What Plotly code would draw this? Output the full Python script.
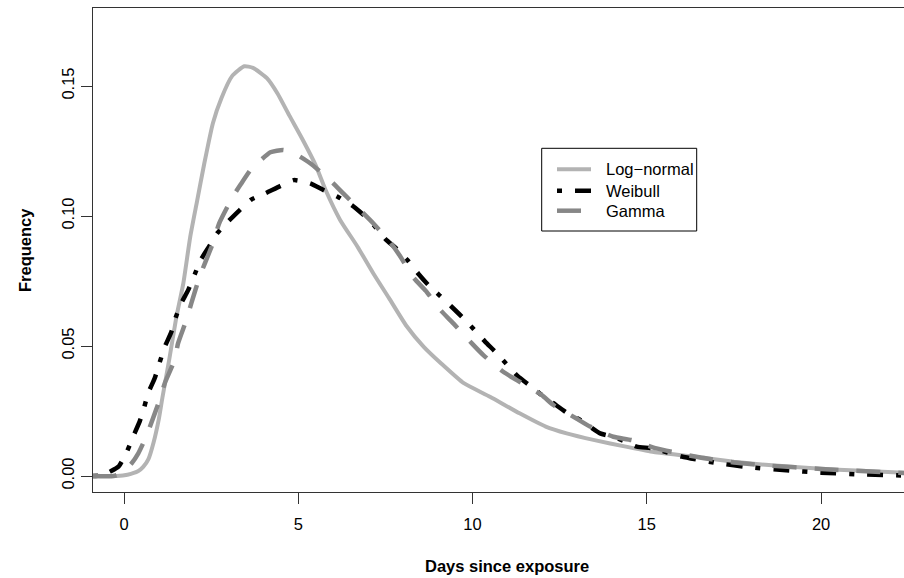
import plotly.graph_objects as go

# ---- data ----
lognormal_x = [-0.9, -0.2, 0.1, 0.4, 0.55, 0.7, 0.85, 1.0, 1.1, 1.3, 1.5, 1.7, 1.9, 2.1, 2.3, 2.55, 2.8, 3.1,
               3.45, 3.7, 4.1, 4.4, 4.75, 5.1, 5.5, 5.8, 6.2, 6.7, 7.15, 7.6, 8.1, 8.6, 9.1, 9.75, 10.5, 11.35,
               12.1, 12.7, 13.5, 14.4, 15.2, 16.5, 17.5, 18.5, 20, 21, 22.4]
lognormal_y = [0, 0, 0.0005, 0.0018, 0.0035, 0.0065, 0.013, 0.022, 0.030, 0.045, 0.061, 0.074, 0.092, 0.106,
               0.120, 0.1357, 0.1455, 0.1538, 0.1576, 0.1570, 0.153, 0.1472, 0.1385, 0.130, 0.1195, 0.1095,
               0.0985, 0.0882, 0.078, 0.0685, 0.0578, 0.0497, 0.0433, 0.0357, 0.0305, 0.0241, 0.019, 0.0164,
               0.0138, 0.0113, 0.0092, 0.0072, 0.0055, 0.0042, 0.0028, 0.0021, 0.0012]

weibull_x = [-0.9, -0.6, -0.4, -0.16, 0.08, 0.26, 0.45, 0.55, 0.69, 0.88, 1.02, 1.17, 1.36, 1.48, 1.64, 1.84,
             2.03, 2.2, 2.41, 2.67, 2.98, 3.32, 3.65, 4.05, 4.48, 4.87, 5.34, 5.72, 6.13, 6.53, 6.87, 7.2, 7.5,
             7.83, 8.13, 8.45, 8.73, 9.05, 9.4, 9.69, 10.02, 10.36, 10.65, 10.96, 11.29, 11.62, 11.98, 12.32,
             12.7, 13.1, 13.66, 14.03, 14.33, 14.71, 15.19, 16, 17, 18, 19, 20, 21, 22.4]
weibull_y = [0, 0.0003, 0.0017, 0.0036, 0.0093, 0.0151, 0.021, 0.025, 0.0318, 0.0376, 0.0436, 0.0497, 0.0555,
             0.0609, 0.0664, 0.0715, 0.0776, 0.0831, 0.0876, 0.0933, 0.0978, 0.1023, 0.1063, 0.1087, 0.1115,
             0.1138, 0.1126, 0.110, 0.1074, 0.1042, 0.1004, 0.096, 0.0911, 0.0873, 0.0831, 0.0777, 0.0735,
             0.0695, 0.0651, 0.0613, 0.0567, 0.0517, 0.0478, 0.0433, 0.0385, 0.035, 0.0312, 0.028, 0.0244,
             0.0215, 0.0164, 0.0151, 0.0135, 0.0113, 0.0106, 0.0075, 0.005, 0.0033, 0.0022, 0.0013, 0.0007,
             0.0002]

gamma_x = [-0.9, -0.3, -0.07, 0.22, 0.41, 0.55, 0.65, 0.78, 1.02, 1.17, 1.45, 1.55, 1.79, 1.93, 2.17, 2.32,
           2.55, 2.73, 3.12, 3.35, 3.7, 3.84, 4.2, 4.57, 4.9, 5.34, 5.91, 6.29, 6.87, 7.15, 7.63, 7.9, 8.3,
           8.66, 9.1, 9.45, 9.98, 10.31, 10.88, 11.27, 11.98, 12.32, 12.97, 13.37, 14.04, 14.57, 15.28, 16.5,
           17.5, 18.5, 20, 21, 22.4]
gamma_y = [0, 0, 0.001, 0.0049, 0.0087, 0.0126, 0.0155, 0.0203, 0.0292, 0.0357, 0.0446, 0.051, 0.06, 0.0664,
           0.0767, 0.0818, 0.0895, 0.0972, 0.1074, 0.1122, 0.119, 0.1205, 0.1245, 0.1254, 0.1240, 0.1203,
           0.1138, 0.1087, 0.101, 0.0972, 0.0900, 0.0850, 0.0764, 0.0712, 0.0635, 0.0587, 0.051, 0.0465,
           0.0401, 0.0369, 0.0312, 0.0273, 0.0222, 0.019, 0.0151, 0.0138, 0.0106, 0.0072, 0.0052, 0.004,
           0.0027, 0.002, 0.0011]

series_names = ["Log\u2212normal", "Weibull", "Gamma"]
x_ticks = [0, 5, 10, 15, 20]
y_ticks = [0.0, 0.05, 0.10, 0.15]
y_tick_labels = ["0.00", "0.05", "0.10", "0.15"]

FONT = "Liberation Sans, Arial, Helvetica, sans-serif"
FS = 16.5

# pixel geometry of the plot region
L, T, W, H = 93, 8, 811, 484


def px(xp):
    return (xp - L) / W


def py(yp):
    return 1 - (yp - T) / H


styles = [
    dict(color="#b3b3b3", width=4, dash="solid"),
    dict(color="#000000", width=4.5, dash="5px,13px,16px,13px"),
    dict(color="#878787", width=4.5, dash="24px,18px"),
]

fig = go.Figure()
for name, xs, ys, st in zip(series_names, [lognormal_x, weibull_x, gamma_x],
                            [lognormal_y, weibull_y, gamma_y], styles):
    fig.add_trace(go.Scatter(x=xs, y=ys, mode="lines", name=name, showlegend=False,
                             line=dict(color=st["color"], width=st["width"], dash=st["dash"],
                                       shape="spline", smoothing=0.5)))

# legend (drawn to match the R legend box)
shapes = [dict(type="rect", xref="paper", yref="paper", x0=px(541.7), x1=px(696.7),
               y0=py(231), y1=py(148.3), line=dict(color="black", width=1), fillcolor="white",
               layer="above")]
annotations = []
entry_y = [169.3, 190.7, 210.7]
for name, st, ey in zip(series_names, styles, entry_y):
    shapes.append(dict(type="line", xref="paper", yref="paper", x0=px(557), x1=px(591),
                       y0=py(ey), y1=py(ey), layer="above",
                       line=dict(color=st["color"], width=st["width"], dash=st["dash"])))
    annotations.append(dict(text=name, xref="paper", yref="paper", x=px(604), y=py(ey),
                            xanchor="left", yanchor="middle", showarrow=False,
                            font=dict(family=FONT, size=FS, color="black")))

annotations += [
    dict(text="<b>Days since exposure</b>", xref="paper", yref="paper",
         x=px(507), y=py(566), xanchor="center", yanchor="middle",
         showarrow=False, font=dict(family=FONT, size=FS)),
    dict(text="<b>Frequency</b>", xref="paper", yref="paper",
         x=px(25), y=0.5, xanchor="center", yanchor="middle", textangle=-90,
         showarrow=False, font=dict(family=FONT, size=FS)),
]

fig.update_layout(
    width=904, height=578,
    margin=dict(l=L, r=904 - L - W, t=T, b=578 - T - H),
    paper_bgcolor="white", plot_bgcolor="white",
    font=dict(family=FONT, size=FS, color="black"),
    showlegend=False,
    xaxis=dict(range=[-0.89, 22.38], tickvals=x_ticks, ticks="outside", ticklen=11,
               tickcolor="#333", showline=True, linecolor="#333", linewidth=1, mirror=True,
               showgrid=False, zeroline=False, ticklabelstandoff=6,
               tickfont=dict(family=FONT, size=FS)),
    yaxis=dict(range=[-0.00615, 0.18], tickvals=y_ticks, ticktext=y_tick_labels, ticks="outside",
               ticklen=11, tickcolor="#333", showline=True, linecolor="#333", linewidth=1,
               showgrid=False, zeroline=False, tickangle=-90,
               tickfont=dict(family=FONT, size=FS)),
    shapes=shapes,
    annotations=annotations,
)

fig.write_html("out.html",
               config={"displayModeBar": False},
               post_script="document.body.style.margin='0';document.body.style.overflow='hidden';")
